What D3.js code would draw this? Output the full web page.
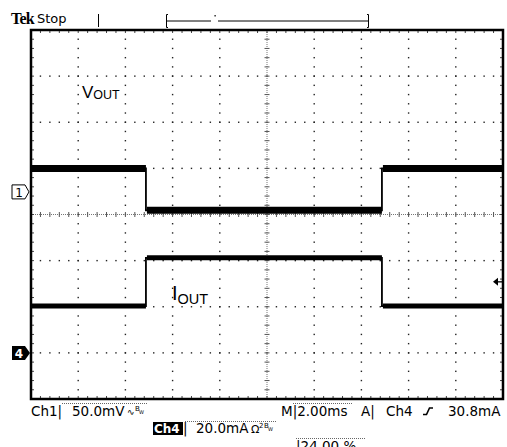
<!doctype html>
<html lang="en">
<head>
<meta charset="utf-8">
<title>Scope capture</title>
<script src="https://cdn.jsdelivr.net/npm/d3@7"></script>
<style>
  body { margin: 0; background: #fff; }
</style>
</head>
<body>
<script>
// trace data (time in ms)
var timeMs = [0, 4.87, 4.87, 14.87, 14.87, 20];
var voutMv = [25.5, 25.5, -20.0, -20.0, 25.5, 25.5];
var ioutMa = [20.3, 20.3, 41.2, 41.2, 20.3, 20.3];

// scope settings
var ch1VoltsPerDiv = 50;    // mV
var ch4AmpsPerDiv = 20;     // mA
var ch1Position = 0.49;     // divisions above centre
var ch4Position = -3;
var triggerLevel = 30.8;    // mA
var timePerDiv = 2;         // ms

var svgW = 507, svgH = 447;
var plot = {left: 31, right: 503, top: 30, bottom: 399};

var svg = d3.select("body").append("svg")
            .attr("width", svgW)
            .attr("height", svgH)
            .style("display", "block");

var x = d3.scaleLinear().domain([0, 10 * timePerDiv]).range([plot.left, plot.right]);
var dv = d3.scaleLinear().domain([-4, 4]).range([plot.bottom, plot.top]);
var yV = v => dv(ch1Position + v / ch1VoltsPerDiv);
var yI = i => dv(ch4Position + i / ch4AmpsPerDiv);

var majorT = d3.range(0, 20.001, timePerDiv);
var minorT = d3.range(0, 20.001, timePerDiv / 5);
var majorD = d3.range(-4, 4.001, 1);
var minorD = d3.range(-4, 4.001, 0.2);

var grid = svg.append("g").attr("class", "grid");

// dotted graticule: one dot per minor step on every major line
majorT.forEach(t => {
    if (t == 0 || t == 20 || t == 10) return;
    grid.selectAll(null).data(minorD).enter().append("rect")
        .attr("x", x(t) - 0.7).attr("y", d => dv(d) - 0.7)
        .attr("width", 1.4).attr("height", 1.4).attr("fill", "#222");
});
majorD.forEach(d0 => {
    if (d0 == -4 || d0 == 4 || d0 == 0) return;
    grid.selectAll(null).data(minorT).enter().append("rect")
        .attr("x", t => x(t) - 0.7).attr("y", dv(d0) - 0.7)
        .attr("width", 1.4).attr("height", 1.4).attr("fill", "#222");
});

// centre crosshair
grid.append("line")
    .attr("x1", plot.left).attr("x2", plot.right)
    .attr("y1", dv(0)).attr("y2", dv(0))
    .attr("stroke", "#777").attr("stroke-width", 1).attr("stroke-dasharray", "1,1");
grid.append("line")
    .attr("x1", x(10)).attr("x2", x(10))
    .attr("y1", plot.top).attr("y2", plot.bottom)
    .attr("stroke", "#777").attr("stroke-width", 1).attr("stroke-dasharray", "1,1");
grid.selectAll(null).data(minorT).enter().append("line")
    .attr("x1", t => x(t)).attr("x2", t => x(t))
    .attr("y1", dv(0) - 2.5).attr("y2", dv(0) + 2.5)
    .attr("stroke", "#555").attr("stroke-width", 1);
grid.selectAll(null).data(minorD).enter().append("line")
    .attr("x1", x(10) - 2.5).attr("x2", x(10) + 2.5)
    .attr("y1", d => dv(d)).attr("y2", d => dv(d))
    .attr("stroke", "#555").attr("stroke-width", 1);

// ticks along the inside of the frame
grid.selectAll(null).data(minorT).enter().append("line")
    .attr("x1", t => x(t)).attr("x2", t => x(t))
    .attr("y1", plot.top).attr("y2", plot.top + 3)
    .attr("stroke", "#444").attr("stroke-width", 1);
grid.selectAll(null).data(minorT).enter().append("line")
    .attr("x1", t => x(t)).attr("x2", t => x(t))
    .attr("y1", plot.bottom - 3).attr("y2", plot.bottom)
    .attr("stroke", "#444").attr("stroke-width", 1);
grid.selectAll(null).data(minorD).enter().append("line")
    .attr("x1", plot.left).attr("x2", plot.left + 3)
    .attr("y1", d => dv(d)).attr("y2", d => dv(d))
    .attr("stroke", "#444").attr("stroke-width", 1);
grid.selectAll(null).data(minorD).enter().append("line")
    .attr("x1", plot.right - 3).attr("x2", plot.right)
    .attr("y1", d => dv(d)).attr("y2", d => dv(d))
    .attr("stroke", "#444").attr("stroke-width", 1);

// frame
svg.append("rect")
   .attr("x", plot.left).attr("y", plot.top)
   .attr("width", plot.right - plot.left).attr("height", plot.bottom - plot.top)
   .attr("fill", "none").attr("stroke", "#000").attr("stroke-width", 2.5);

// traces: thin step line, then thick bands on the flat parts (noise)
var drawTrace = (vals, yf, band) => {
    var pts = timeMs.map((t, i) => [x(t), yf(vals[i])]);
    svg.append("path")
       .attr("d", d3.line()(pts))
       .attr("fill", "none").attr("stroke", "#000").attr("stroke-width", 1.8);
    for (var i = 0; i < pts.length - 1; i++) {
        if (vals[i] != vals[i + 1]) continue;
        svg.append("line")
           .attr("x1", pts[i][0] + (i == 0 ? 0 : 1)).attr("x2", pts[i + 1][0])
           .attr("y1", pts[i][1]).attr("y2", pts[i + 1][1])
           .attr("stroke", "#000").attr("stroke-width", band);
    }
};
drawTrace(voutMv, yV, 7);
drawTrace(ioutMa, yI, 5);

// trace labels
var lab = svg.append("text").attr("x", 82).attr("y", 98)
             .style("font-family", "'Liberation Sans', Arial, sans-serif");
lab.append("tspan").style("font-size", "17px").text("V");
lab.append("tspan").style("font-size", "12.5px").attr("dy", 1).text("OUT");
var lab2 = svg.append("text").attr("x", 172).attr("y", 300)
              .style("font-family", "'Liberation Sans', Arial, sans-serif");
lab2.append("tspan").style("font-size", "20px").text("I");
lab2.append("tspan").style("font-size", "14.5px").attr("dy", 4).text("OUT");

// channel ground markers
var m1 = dv(ch1Position), m4 = dv(ch4Position);
svg.append("path")
   .attr("d", `M12,${m1 - 7}H25L29,${m1}L25,${m1 + 7}H12Z`)
   .attr("fill", "#fff").attr("stroke", "#000").attr("stroke-width", 1);
svg.append("text").attr("x", 19).attr("y", m1 + 5).attr("text-anchor", "middle")
   .style("font-family", "'DejaVu Sans', sans-serif").style("font-size", "12px").text("1");
svg.append("path")
   .attr("d", `M12,${m4 - 7}H25L30,${m4}L25,${m4 + 7}H12Z`)
   .attr("fill", "#000");
svg.append("text").attr("x", 19).attr("y", m4 + 5).attr("text-anchor", "middle")
   .style("fill", "#fff")
   .style("font-family", "'DejaVu Sans', sans-serif").style("font-size", "12px")
   .style("font-weight", "bold").text("4");

// trigger level arrow
var yt = yI(triggerLevel);
svg.append("path").attr("d", `M493,${yt}L498,${yt - 4}V${yt + 4}Z`).attr("fill", "#000");
svg.append("line").attr("x1", 497).attr("x2", 503).attr("y1", yt).attr("y2", yt)
   .attr("stroke", "#000").attr("stroke-width", 1.3);

// header
svg.append("text").attr("x", 11).attr("y", 24)
   .style("font-family", "'Liberation Serif', serif").style("font-weight", "bold")
   .style("font-size", "16px").style("letter-spacing", "-0.8px").text("Tek");
svg.append("text").attr("x", 37).attr("y", 23)
   .style("font-family", "'DejaVu Sans', sans-serif").style("font-size", "13px").text("Stop");
svg.append("line").attr("x1", 98.5).attr("x2", 98.5).attr("y1", 14).attr("y2", 27)
   .attr("stroke", "#000").attr("stroke-width", 1);
// record-length bracket
var hdr = svg.append("g").attr("stroke", "#000").attr("stroke-width", 1).attr("fill", "none");
hdr.append("path").attr("d", "M168,14.5H166.5V27.5H168");
hdr.append("path").attr("d", "M367,14.5H368.5V27.5H367");
hdr.append("line").attr("x1", 166.5).attr("x2", 211).attr("y1", 21).attr("y2", 21);
hdr.append("line").attr("x1", 218).attr("x2", 368.5).attr("y1", 21).attr("y2", 21);
svg.append("rect").attr("x", 214.5).attr("y", 15).attr("width", 1.2).attr("height", 1.5).attr("fill", "#000");

// readouts
var ro = svg.append("g")
            .style("font-family", "'DejaVu Sans', sans-serif")
            .style("font-size", "13.5px");
var put = (tx, ty, s, size) => ro.append("text").attr("x", tx).attr("y", ty)
                               .style("font-size", size || null).text(s);
put(31, 416, "Ch1|");
put(72, 416, "50.0mV");
put(127, 415, "\u223F", "9px");
put(135, 411, "B", "7px");
put(139, 414, "W", "5px");
put(281, 416, "M|2.00ms");
put(361, 416, "A|");
put(386, 416, "Ch4");
put(448, 416, "30.8mA");
// trigger slope symbol
svg.append("path").attr("d", "M423,414.5H426.5L429.5,408H433")
   .attr("fill", "none").attr("stroke", "#000").attr("stroke-width", 1.6);
// dotted overlines
var ov = svg.append("g").attr("stroke", "#666").attr("stroke-width", 1).attr("stroke-dasharray", "1,1");
ov.append("line").attr("x1", 62).attr("x2", 148).attr("y1", 403.5).attr("y2", 403.5);
ov.append("line").attr("x1", 293).attr("x2", 353).attr("y1", 403.5).attr("y2", 403.5);
ov.append("line").attr("x1", 185).attr("x2", 276).attr("y1", 421.5).attr("y2", 421.5);
ov.append("line").attr("x1", 296).attr("x2", 365).attr("y1", 438.5).attr("y2", 438.5);

// row 2
ro.append("rect").attr("x", 153).attr("y", 422).attr("width", 30).attr("height", 13).attr("fill", "#000");
ro.append("text").attr("x", 154).attr("y", 433).style("fill", "#fff")
  .style("font-weight", "bold").style("font-size", "12px").text("Ch4");
put(183, 433, "|");
put(196, 433, "20.0mA");
put(251, 433, "\u03A9", "11px");
put(259, 428, "2", "7px");
put(264, 428, "B", "7px");
put(268, 431, "W", "5px");

// row 3, clipped by the bottom of the screen as in the capture
put(296, 451, "|24.00 %");
</script>
</body>
</html>
